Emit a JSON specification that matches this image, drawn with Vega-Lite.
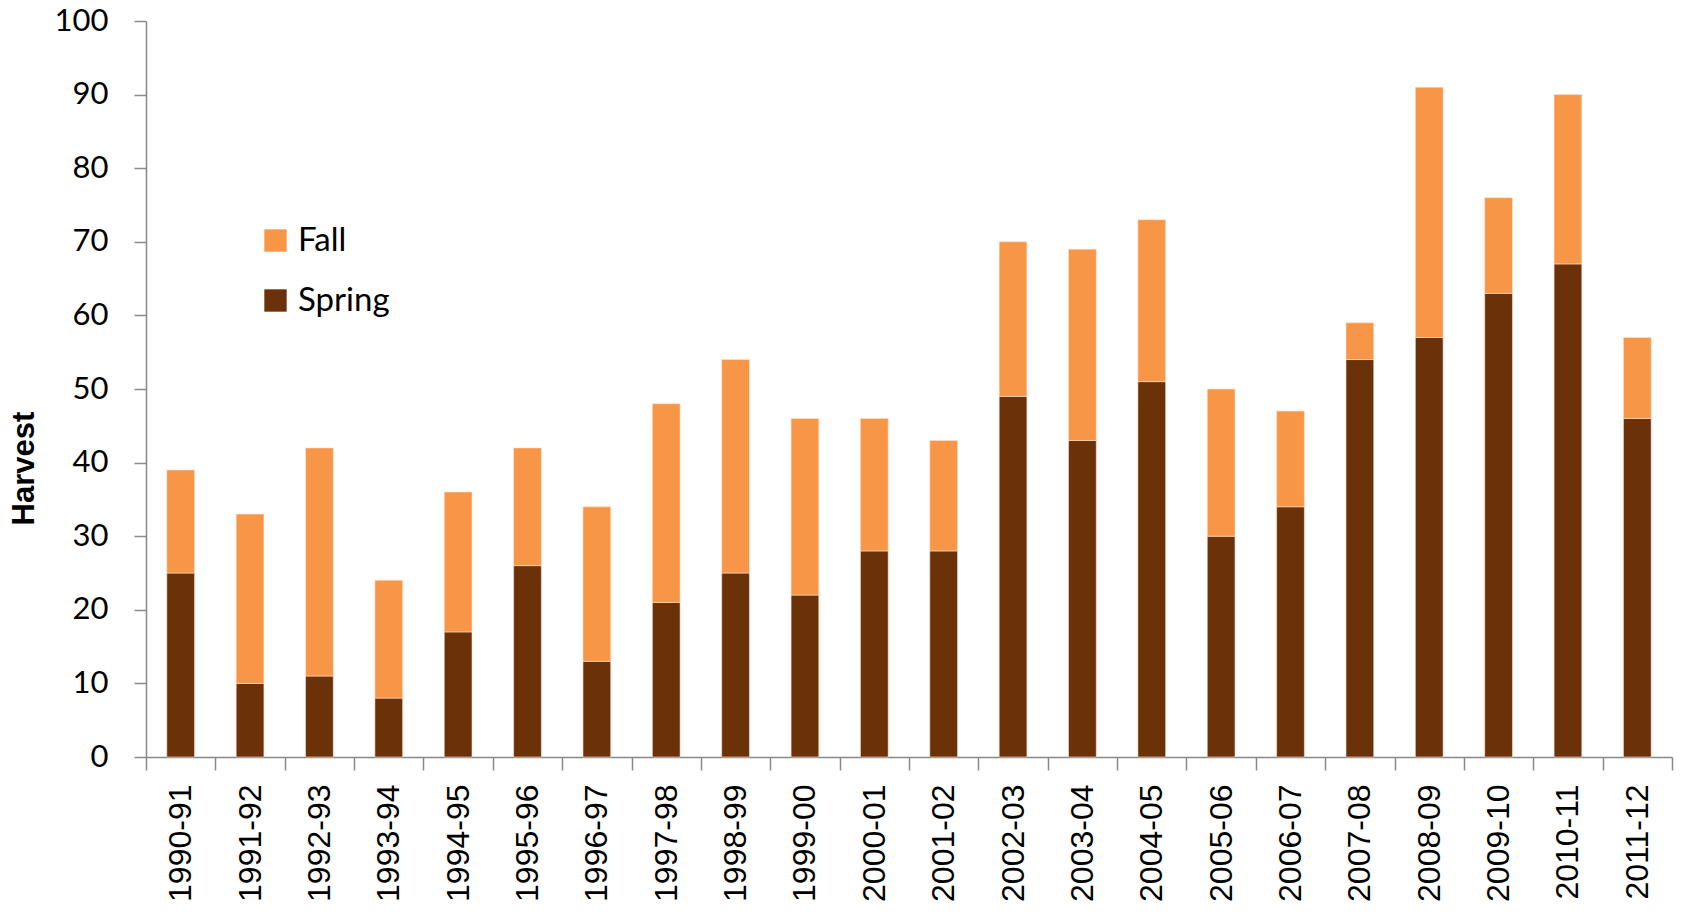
{
  "$schema": "https://vega.github.io/schema/vega-lite/v6.json",
  "autosize": {"type": "none"},
  "width": 1526,
  "height": 736,
  "padding": {"left": 146, "top": 21, "right": 9, "bottom": 155},
  "background": "white",
  "config": {"view": {"stroke": null}},
  "data": {"values": [
    {"season": "1990-91", "type": "Spring", "harvest": 25}, {"season": "1990-91", "type": "Fall", "harvest": 14},
    {"season": "1991-92", "type": "Spring", "harvest": 10}, {"season": "1991-92", "type": "Fall", "harvest": 23},
    {"season": "1992-93", "type": "Spring", "harvest": 11}, {"season": "1992-93", "type": "Fall", "harvest": 31},
    {"season": "1993-94", "type": "Spring", "harvest": 8}, {"season": "1993-94", "type": "Fall", "harvest": 16},
    {"season": "1994-95", "type": "Spring", "harvest": 17}, {"season": "1994-95", "type": "Fall", "harvest": 19},
    {"season": "1995-96", "type": "Spring", "harvest": 26}, {"season": "1995-96", "type": "Fall", "harvest": 16},
    {"season": "1996-97", "type": "Spring", "harvest": 13}, {"season": "1996-97", "type": "Fall", "harvest": 21},
    {"season": "1997-98", "type": "Spring", "harvest": 21}, {"season": "1997-98", "type": "Fall", "harvest": 27},
    {"season": "1998-99", "type": "Spring", "harvest": 25}, {"season": "1998-99", "type": "Fall", "harvest": 29},
    {"season": "1999-00", "type": "Spring", "harvest": 22}, {"season": "1999-00", "type": "Fall", "harvest": 24},
    {"season": "2000-01", "type": "Spring", "harvest": 28}, {"season": "2000-01", "type": "Fall", "harvest": 18},
    {"season": "2001-02", "type": "Spring", "harvest": 28}, {"season": "2001-02", "type": "Fall", "harvest": 15},
    {"season": "2002-03", "type": "Spring", "harvest": 49}, {"season": "2002-03", "type": "Fall", "harvest": 21},
    {"season": "2003-04", "type": "Spring", "harvest": 43}, {"season": "2003-04", "type": "Fall", "harvest": 26},
    {"season": "2004-05", "type": "Spring", "harvest": 51}, {"season": "2004-05", "type": "Fall", "harvest": 22},
    {"season": "2005-06", "type": "Spring", "harvest": 30}, {"season": "2005-06", "type": "Fall", "harvest": 20},
    {"season": "2006-07", "type": "Spring", "harvest": 34}, {"season": "2006-07", "type": "Fall", "harvest": 13},
    {"season": "2007-08", "type": "Spring", "harvest": 54}, {"season": "2007-08", "type": "Fall", "harvest": 5},
    {"season": "2008-09", "type": "Spring", "harvest": 57}, {"season": "2008-09", "type": "Fall", "harvest": 34},
    {"season": "2009-10", "type": "Spring", "harvest": 63}, {"season": "2009-10", "type": "Fall", "harvest": 13},
    {"season": "2010-11", "type": "Spring", "harvest": 67}, {"season": "2010-11", "type": "Fall", "harvest": 23},
    {"season": "2011-12", "type": "Spring", "harvest": 46}, {"season": "2011-12", "type": "Fall", "harvest": 11}
  ]},
  "mark": {"type": "bar", "width": {"band": 0.4}, "stroke": "#fde3d0", "strokeWidth": 0.6},
  "encoding": {
    "x": {
      "field": "season", "type": "nominal", "sort": null,
      "scale": {"paddingInner": 0, "paddingOuter": 0},
      "axis": {
        "title": null, "labelAngle": -90, "labelFont": "Liberation Sans", "labelFontSize": 32,
        "labelColor": "#000000", "labelPadding": 14, "tickBand": "extent", "tickSize": 13,
        "tickColor": "#888888", "domainColor": "#888888", "tickWidth": 1.5, "domainWidth": 1.5
      }
    },
    "y": {
      "field": "harvest", "type": "quantitative", "aggregate": "sum", "stack": "zero",
      "scale": {"domain": [0, 100], "nice": false},
      "axis": {
        "title": "Harvest", "titleFont": "Liberation Sans", "titleFontSize": 31, "titleFontWeight": "bold",
        "titleColor": "#000000", "titleAngle": -90, "titleAlign": "center", "titleBaseline": "middle",
        "titleX": -122, "titleY": 447,
        "values": [0, 10, 20, 30, 40, 50, 60, 70, 80, 90, 100], "grid": false,
        "labelFont": "Lato", "labelFontSize": 31, "labelColor": "#000000", "labelPadding": 26,
        "tickSize": 12, "tickColor": "#888888", "domainColor": "#888888", "tickWidth": 1.5, "domainWidth": 1.5
      }
    },
    "color": {
      "field": "type", "type": "nominal",
      "scale": {"domain": ["Fall", "Spring"], "range": ["#F79646", "#6B3108"]},
      "legend": {
        "title": null, "orient": "none", "legendX": 113, "legendY": 203,
        "symbolType": "square", "symbolSize": 500, "symbolStrokeWidth": 0,
        "labelFont": "Lato", "labelFontSize": 33, "labelColor": "#000000", "labelOffset": 6,
        "rowPadding": 26, "padding": 0
      }
    },
    "order": {"field": "type", "sort": "descending"}
  }
}
